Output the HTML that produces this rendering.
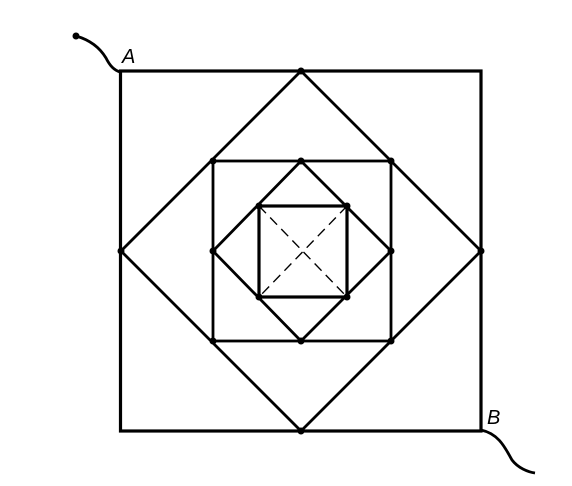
<!DOCTYPE html>
<html><head><meta charset="utf-8"><style>
html,body{margin:0;padding:0;background:#fff;width:572px;height:486px;overflow:hidden}
svg{display:block}
</style></head><body>
<svg width="572" height="486" viewBox="0 0 572 486">
<g fill="none" stroke="#000" stroke-linejoin="miter">
<rect x="120.5" y="71" width="360.5" height="360" stroke-width="3.2"/>
<polygon points="301,71 481,251 301,431 121,251" stroke-width="2.8"/>
<rect x="213" y="161" width="178" height="180" stroke-width="2.8"/>
<polygon points="301,161 391,251 301,341 213,251" stroke-width="2.8"/>
<rect x="259" y="206" width="88" height="91" stroke-width="3.2"/>
<g stroke-width="1.4" stroke-dasharray="10,6">
<line x1="259" y1="206" x2="347" y2="297"/>
<line x1="347" y1="206" x2="259" y2="297"/>
</g>
<path d="M76,36 C90,40 100,48 106,58 C110,66 114,70 120,72" stroke-width="2.8"/>
<path d="M481,430 C500,434 506,450 512,460 C518,468 528,472 535,473" stroke-width="2.8"/>
</g>
<circle cx="76" cy="36" r="3.5" fill="#000"/>
<g fill="#000">
<circle cx="301" cy="71" r="3.5"/><circle cx="481" cy="251" r="3.5"/><circle cx="301" cy="431" r="3.5"/><circle cx="121" cy="251" r="3.5"/>
<circle cx="213" cy="161" r="3.5"/><circle cx="391" cy="161" r="3.5"/><circle cx="391" cy="341" r="3.5"/><circle cx="213" cy="341" r="3.5"/>
<circle cx="301" cy="161" r="3.5"/><circle cx="391" cy="251" r="3.5"/><circle cx="301" cy="341" r="3.5"/><circle cx="213" cy="251" r="3.5"/>
<circle cx="259" cy="206" r="3.5"/><circle cx="347" cy="206" r="3.5"/><circle cx="347" cy="297" r="3.5"/><circle cx="259" cy="297" r="3.5"/>
</g>
<text x="122" y="63" font-family="Liberation Sans, sans-serif" font-style="italic" font-size="20">A</text>
<text x="487" y="424" font-family="Liberation Sans, sans-serif" font-style="italic" font-size="20">B</text>
</svg>
</body></html>
